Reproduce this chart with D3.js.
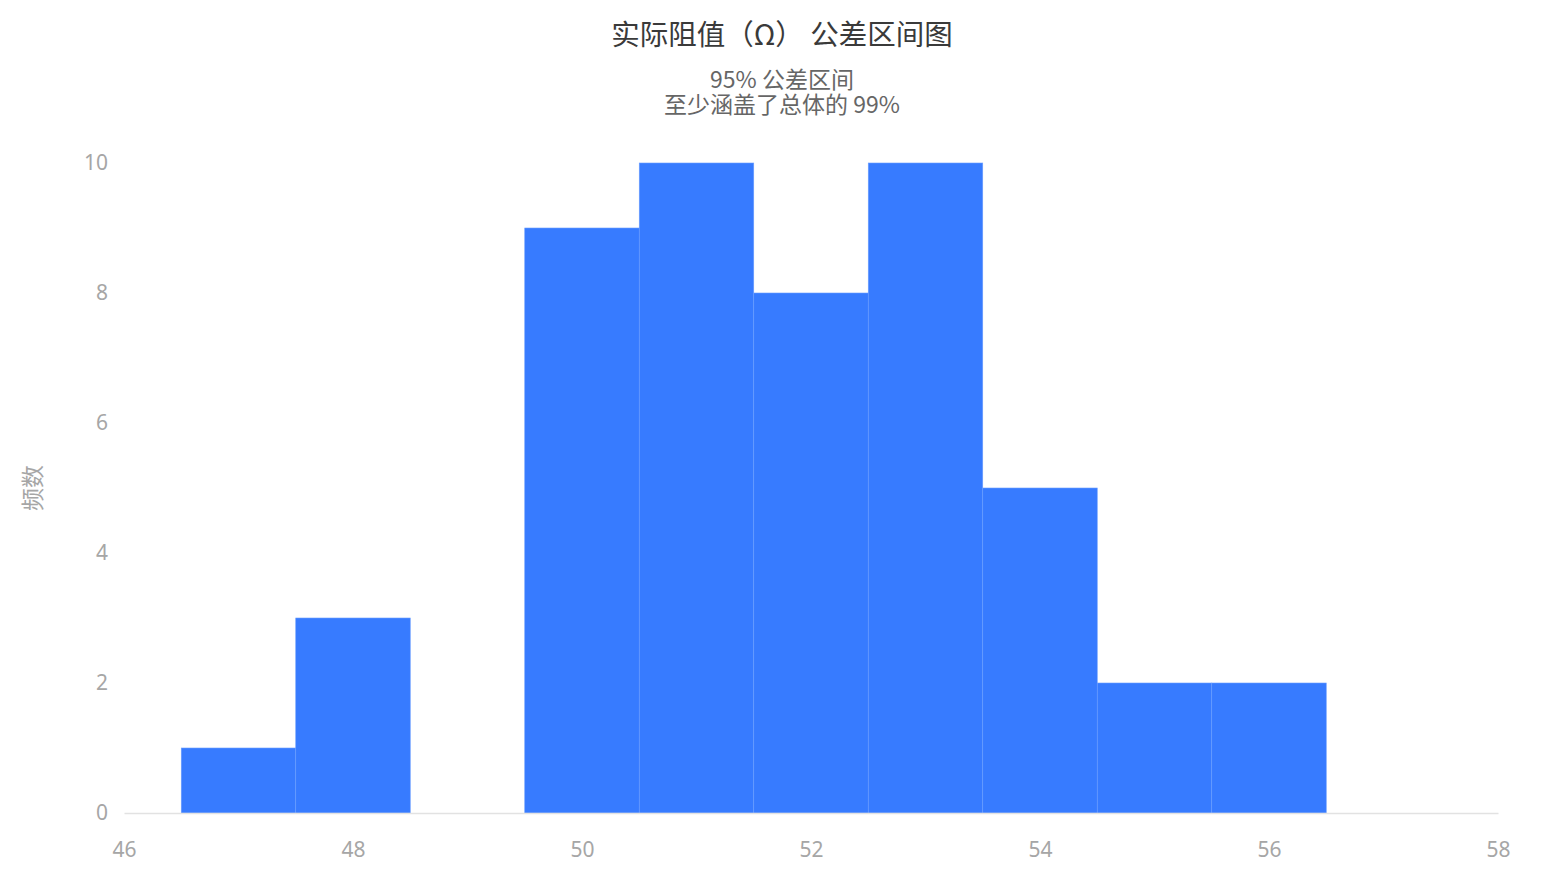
<!DOCTYPE html>
<html>
<head>
<meta charset="utf-8">
<script src="https://cdn.jsdelivr.net/npm/d3@7"></script>
<style>
  body { margin: 0; background: #fff; font-family: "Noto Sans CJK SC", "Noto Sans", sans-serif; }
</style>
</head>
<body>
<div id="chart"></div>
<script>
// histogram bins (lower, upper edges) and counts
const binStart = [46.5, 47.5, 48.5, 49.5, 50.5, 51.5, 52.5, 53.5, 54.5, 55.5];
const binEnd   = [47.5, 48.5, 49.5, 50.5, 51.5, 52.5, 53.5, 54.5, 55.5, 56.5];
const counts   = [1, 3, 0, 9, 10, 8, 10, 5, 2, 2];
const xTicks = [46, 48, 50, 52, 54, 56, 58];
const yTicks = [0, 2, 4, 6, 8, 10];
const title = "实际阻值（Ω） 公差区间图";
const subtitle = ["95% 公差区间", "至少涵盖了总体的 99%"];
const yLabel = "频数";

const W = 1564, H = 882;
const margin = {top: 163, right: 66, bottom: 69, left: 124};
const width = W - margin.left - margin.right,
      height = H - margin.top - margin.bottom;

const svg = d3.select("#chart").append("svg")
  .attr("width", W).attr("height", H);

const g = svg.append("g")
  .attr("transform", `translate(${margin.left},${margin.top})`);

const x = d3.scaleLinear().domain([46, 58]).range([0, width]);
const y = d3.scaleLinear().domain([0, 10]).range([height, 0]);

// bars
const data = counts.map((c, i) => ({x0: binStart[i], x1: binEnd[i], n: c}));
g.selectAll("rect.bar")
  .data(data.filter(d => d.n > 0))
  .join("rect")
    .attr("class", "bar")
    .attr("x", d => x(d.x0))
    .attr("y", d => y(d.n))
    .attr("width", d => x(d.x1) - x(d.x0))
    .attr("height", d => y(0) - y(d.n))
    .attr("fill", "#377bff")
    .attr("stroke", "#6a9dff")
    .attr("stroke-width", 0.6);

// x axis
const xAxis = g.append("g")
  .attr("transform", `translate(0,${height})`)
  .call(d3.axisBottom(x).tickValues(xTicks).tickSize(0).tickPadding(29));
xAxis.select(".domain").attr("stroke", "#e2e2e2").attr("stroke-width", 1.5);
xAxis.selectAll("text")
  .attr("fill", "#a6a6a6")
  .style("font-size", "21px")
  .style("font-family", "'Noto Sans', sans-serif");

// y axis
const yAxis = g.append("g")
  .call(d3.axisLeft(y).tickValues(yTicks).tickSize(0).tickPadding(16));
yAxis.select(".domain").remove();
yAxis.selectAll("text")
  .attr("fill", "#a6a6a6")
  .style("font-size", "21px")
  .style("font-family", "'Noto Sans', sans-serif");

// y label
svg.append("text")
  .attr("transform", `translate(41,${margin.top + height / 2}) rotate(-90)`)
  .attr("text-anchor", "middle")
  .attr("fill", "#a6a6a6")
  .style("font-size", "23px")
  .text(yLabel);

// title
svg.append("text")
  .attr("x", W / 2)
  .attr("y", 45)
  .attr("text-anchor", "middle")
  .attr("fill", "#3a3a3a")
  .style("font-size", "28.5px")
  .text(title);

svg.selectAll("text.sub")
  .data(subtitle)
  .join("text")
    .attr("class", "sub")
    .attr("x", W / 2)
    .attr("y", (d, i) => 88 + i * 25)
    .attr("text-anchor", "middle")
    .attr("fill", "#666")
    .style("font-size", "23px")
    .text(d => d);
</script>
</body>
</html>
